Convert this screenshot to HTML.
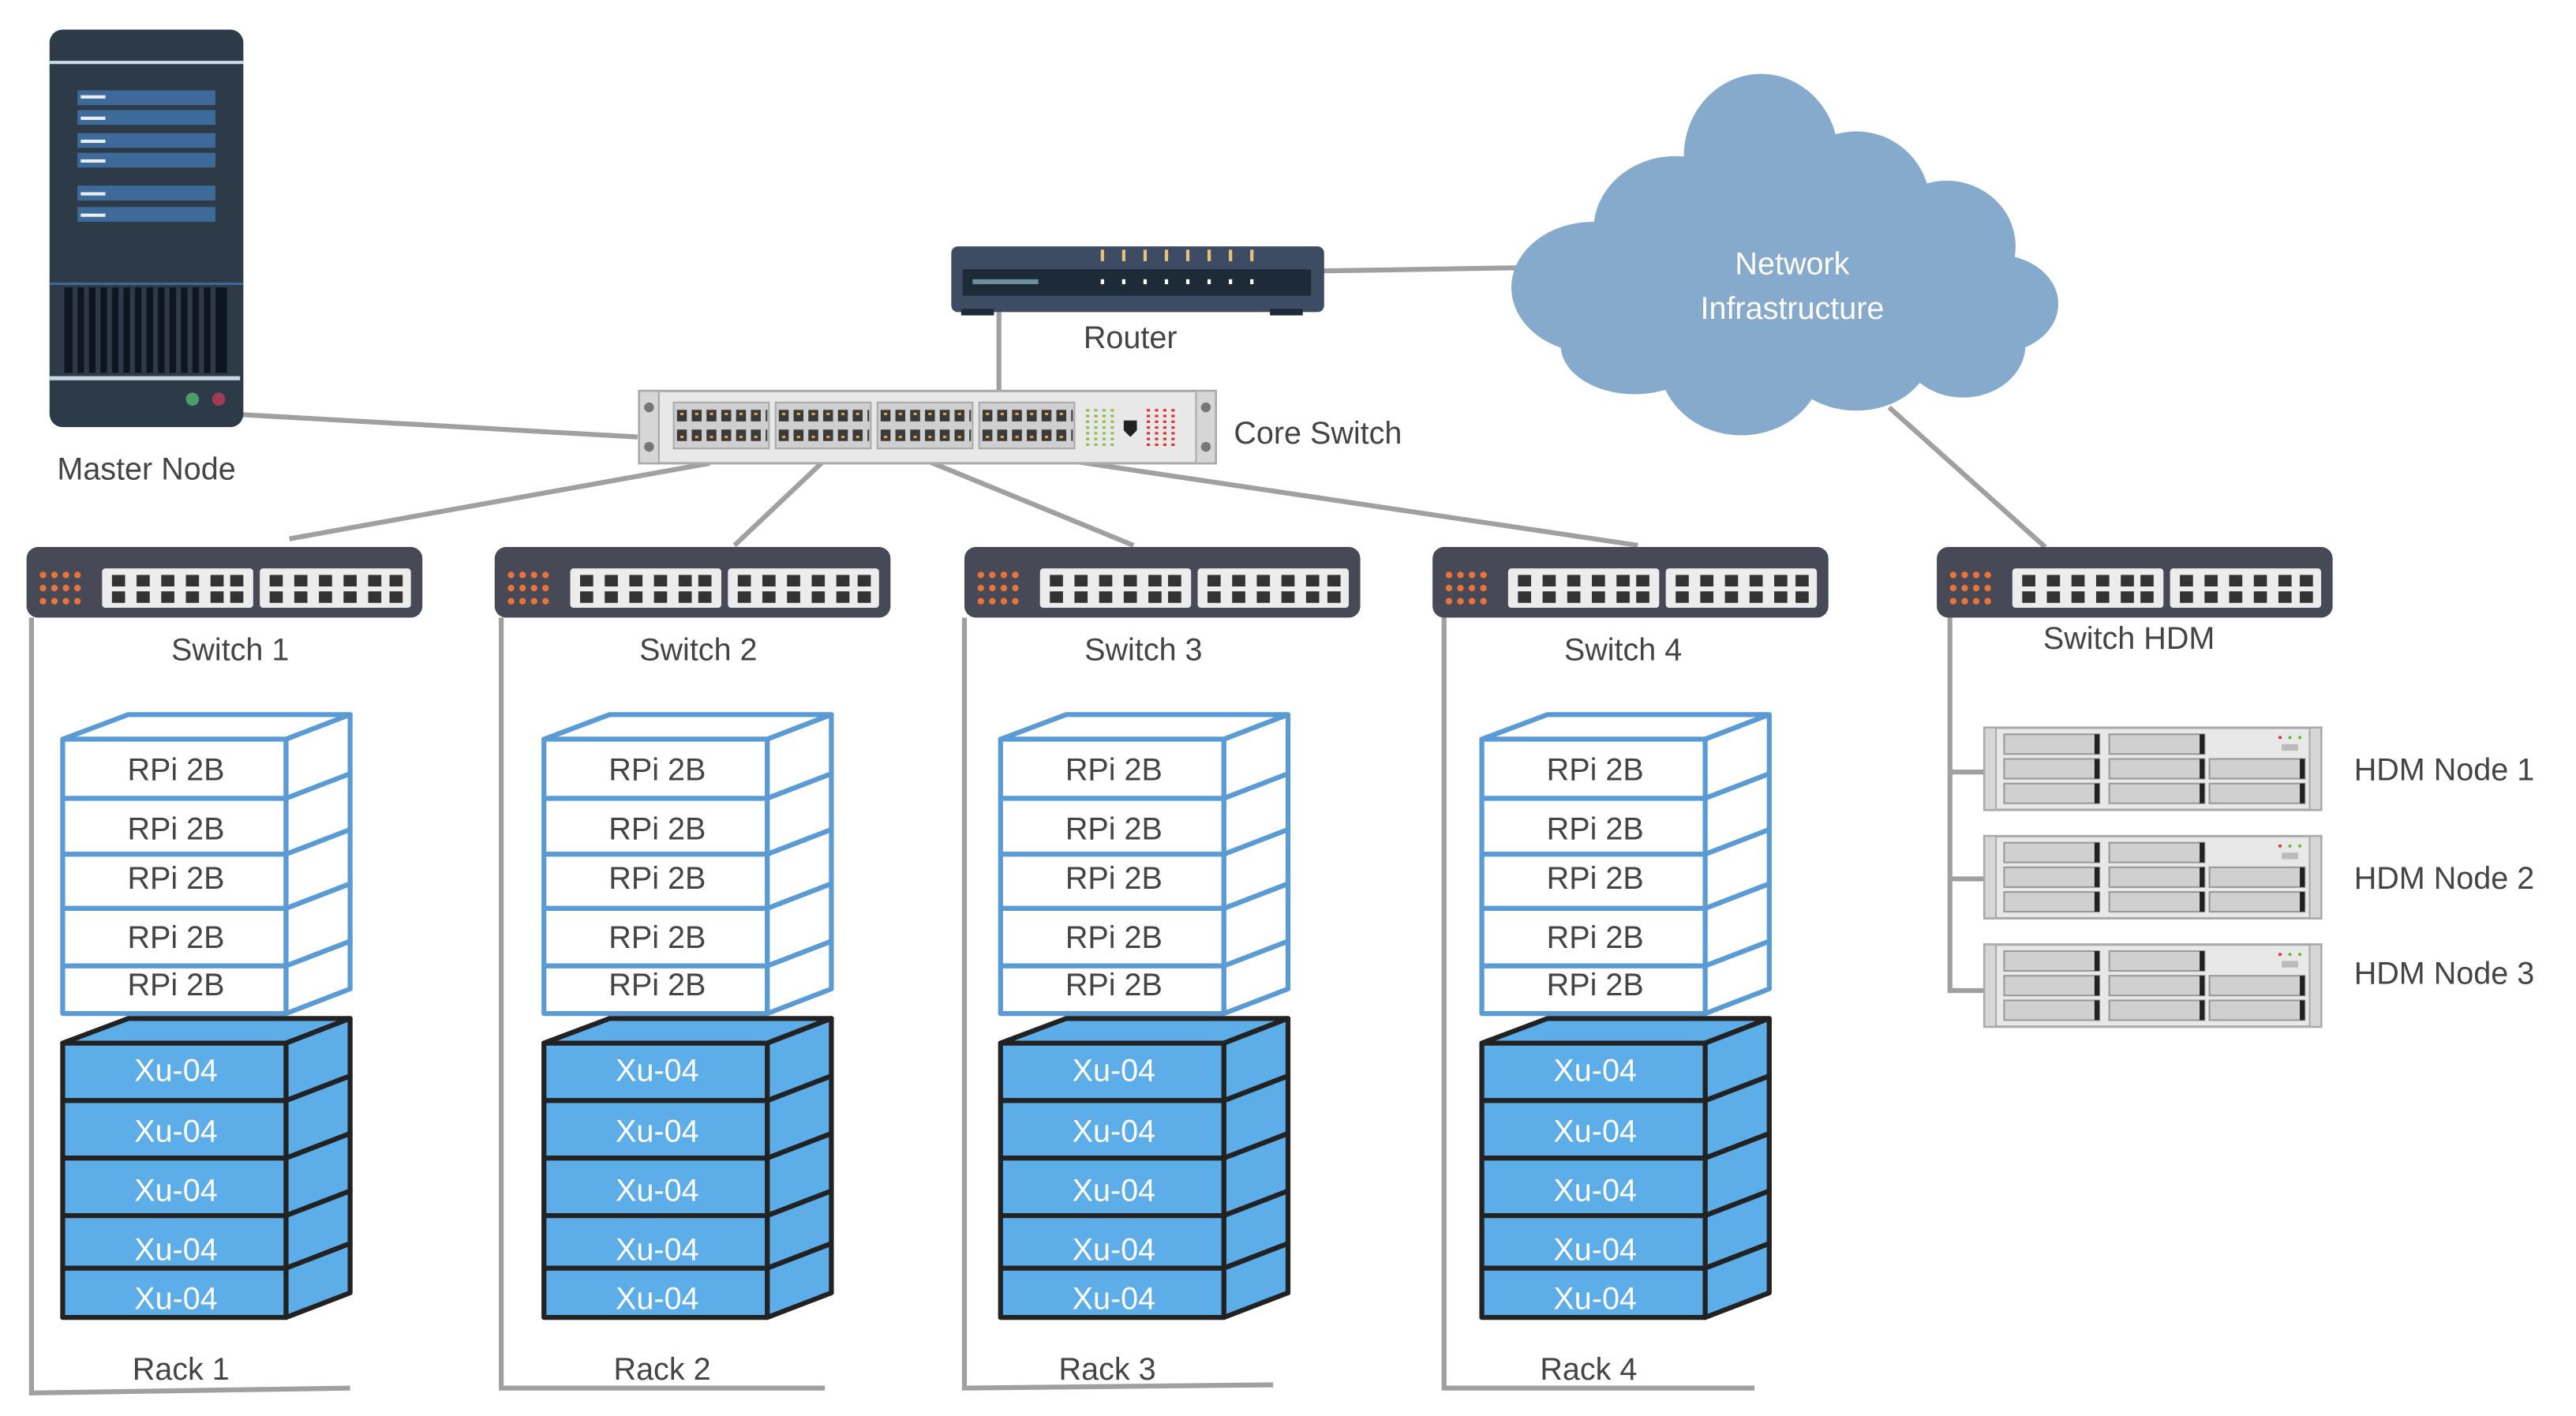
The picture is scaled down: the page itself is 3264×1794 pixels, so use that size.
<!DOCTYPE html>
<html><head><meta charset="utf-8"><style>
html,body{margin:0;padding:0;background:#fff}
svg{display:block}
text{font-family:"Liberation Sans",sans-serif;}
</style></head><body>
<svg width="3264" height="1794" viewBox="0 0 1568 862" xmlns="http://www.w3.org/2000/svg">
<defs>
<g id="sw">
<rect x="0" y="0" width="241" height="43" rx="7" fill="#474a56"/>
<g fill="#e8743b">
<circle cx="10" cy="17" r="2"/><circle cx="17" cy="17" r="2"/><circle cx="24" cy="17" r="2"/><circle cx="31" cy="17" r="2"/>
<circle cx="10" cy="25" r="2"/><circle cx="17" cy="25" r="2"/><circle cx="24" cy="25" r="2"/><circle cx="31" cy="25" r="2"/>
<circle cx="10" cy="33" r="2"/><circle cx="17" cy="33" r="2"/><circle cx="24" cy="33" r="2"/><circle cx="31" cy="33" r="2"/>
</g>
<rect x="46" y="13" width="92" height="24" rx="2" fill="#ececec"/>
<rect x="142" y="13" width="92" height="24" rx="2" fill="#ececec"/>
<g fill="#333">
<rect x="52" y="17" width="8" height="7"/><rect x="67" y="17" width="8" height="7"/><rect x="82" y="17" width="8" height="7"/><rect x="97" y="17" width="8" height="7"/><rect x="112" y="17" width="8" height="7"/><rect x="124" y="17" width="8" height="7"/>
<rect x="52" y="27" width="8" height="7"/><rect x="67" y="27" width="8" height="7"/><rect x="82" y="27" width="8" height="7"/><rect x="97" y="27" width="8" height="7"/><rect x="112" y="27" width="8" height="7"/><rect x="124" y="27" width="8" height="7"/>
<rect x="148" y="17" width="8" height="7"/><rect x="163" y="17" width="8" height="7"/><rect x="178" y="17" width="8" height="7"/><rect x="193" y="17" width="8" height="7"/><rect x="208" y="17" width="8" height="7"/><rect x="221" y="17" width="8" height="7"/>
<rect x="148" y="27" width="8" height="7"/><rect x="163" y="27" width="8" height="7"/><rect x="178" y="27" width="8" height="7"/><rect x="193" y="27" width="8" height="7"/><rect x="208" y="27" width="8" height="7"/><rect x="221" y="27" width="8" height="7"/>
</g>
</g>
<g id="rack">
<g fill="#fff" stroke="#5b9bd5" stroke-width="3" stroke-linejoin="round">
<polygon points="0,450 40,435 175,435 136,450"/>
<rect x="0" y="450" width="136" height="36"/><polygon points="136,450 175,435 175,471 136,486"/>
<rect x="0" y="486" width="136" height="34"/><polygon points="136,486 175,471 175,505 136,520"/>
<rect x="0" y="520" width="136" height="33"/><polygon points="136,520 175,505 175,538 136,553"/>
<rect x="0" y="553" width="136" height="35"/><polygon points="136,553 175,538 175,573 136,588"/>
<rect x="0" y="588" width="136" height="29"/><polygon points="136,588 175,573 175,602 136,617"/>
</g>
<g fill="#5dade8" stroke="#222" stroke-width="3" stroke-linejoin="round">
<polygon points="0,635 40,620 175,620 136,635"/>
<rect x="0" y="635" width="136" height="35"/><polygon points="136,635 175,620 175,655 136,670"/>
<rect x="0" y="670" width="136" height="35"/><polygon points="136,670 175,655 175,690 136,705"/>
<rect x="0" y="705" width="136" height="35"/><polygon points="136,705 175,690 175,725 136,740"/>
<rect x="0" y="740" width="136" height="32"/><polygon points="136,740 175,725 175,757 136,772"/>
<rect x="0" y="772" width="136" height="30"/><polygon points="136,772 175,757 175,787 136,802"/>
</g>
</g>
<g id="hdm">
<rect x="0" y="0" width="205" height="50" fill="#e8e8e8" stroke="#aaa" stroke-width="1.5"/>
<rect x="0" y="0" width="7" height="50" fill="#d6d6d6" stroke="#aaa"/>
<rect x="198" y="0" width="7" height="50" fill="#d6d6d6" stroke="#aaa"/>
<g fill="#d0d0d0" stroke="#999" stroke-width="1">
<rect x="12" y="4" width="58" height="12"/><rect x="76" y="4" width="58" height="12"/>
<rect x="12" y="19" width="58" height="12"/><rect x="76" y="19" width="58" height="12"/><rect x="137" y="19" width="58" height="12"/>
<rect x="12" y="34" width="58" height="12"/><rect x="76" y="34" width="58" height="12"/><rect x="137" y="34" width="58" height="12"/>
</g>
<g fill="#222"><rect x="67" y="4" width="3" height="12"/><rect x="131" y="4" width="3" height="12"/><rect x="67" y="19" width="3" height="12"/><rect x="131" y="19" width="3" height="12"/><rect x="192" y="19" width="3" height="12"/><rect x="67" y="34" width="3" height="12"/><rect x="131" y="34" width="3" height="12"/><rect x="192" y="34" width="3" height="12"/></g>
<circle cx="180" cy="6" r="1" fill="#d33"/><circle cx="186" cy="6" r="1" fill="#6b3"/><circle cx="192" cy="6" r="1" fill="#6b3"/>
<rect x="181" y="10" width="10" height="4" fill="#bbb"/>
</g>
</defs>

<g stroke="#a0a0a0" stroke-width="3" fill="none">
<line x1="140" y1="252" x2="388" y2="266"/>
<line x1="608" y1="190" x2="608" y2="238"/>
<line x1="800" y1="165" x2="925" y2="163"/>
<line x1="432" y1="282" x2="176" y2="328"/>
<line x1="502" y1="280" x2="447" y2="332"/>
<line x1="563" y1="280" x2="690" y2="332"/>
<line x1="628" y1="277" x2="997" y2="332"/>
<line x1="1150" y1="248" x2="1245" y2="333"/>
<polyline points="19,376 19,848 213,845"/>
<polyline points="305,376 305,845 502,845"/>
<polyline points="587,376 587,845 775,843"/>
<polyline points="879,376 879,845 1068,845"/>
<polyline points="1187,370 1187,603 1208,603"/>
<line x1="1187" y1="470" x2="1208" y2="470"/>
<line x1="1187" y1="535" x2="1208" y2="535"/>
</g>

<rect x="30" y="18" width="118" height="242" rx="8" fill="#2d3a47"/>
<rect x="30" y="37" width="118" height="2" fill="#c9d6e3"/>
<g fill="#3e6a99">
<rect x="47" y="55" width="84" height="9"/><rect x="47" y="67" width="84" height="9"/>
<rect x="47" y="81" width="84" height="9"/><rect x="47" y="93" width="84" height="9"/>
<rect x="47" y="113" width="84" height="9"/><rect x="47" y="126" width="84" height="9"/>
</g>
<g fill="#e8eef4">
<rect x="49" y="58" width="15" height="2"/><rect x="49" y="71" width="15" height="2"/>
<rect x="49" y="85" width="15" height="2"/><rect x="49" y="97" width="15" height="2"/>
<rect x="49" y="117" width="15" height="2"/><rect x="49" y="130" width="15" height="2"/>
</g>
<rect x="30" y="172" width="118" height="1.5" fill="#3e6a99"/>
<rect x="39" y="175" width="99" height="52" fill="#0d1620"/>
<g fill="#2d3a47">
<rect x="44" y="175" width="3" height="52"/><rect x="51" y="175" width="3" height="52"/><rect x="58" y="175" width="3" height="52"/><rect x="65" y="175" width="3" height="52"/><rect x="72" y="175" width="3" height="52"/><rect x="79" y="175" width="3" height="52"/><rect x="86" y="175" width="3" height="52"/><rect x="93" y="175" width="3" height="52"/><rect x="100" y="175" width="3" height="52"/><rect x="107" y="175" width="3" height="52"/><rect x="114" y="175" width="3" height="52"/><rect x="121" y="175" width="3" height="52"/><rect x="128" y="175" width="3" height="52"/>
</g>
<rect x="30" y="229" width="116" height="2.5" fill="#c9d6e3"/>
<circle cx="117" cy="243" r="4" fill="#4a9e6b"/><circle cx="133" cy="243" r="4" fill="#a03a55"/>
<text x="89" y="292" font-size="19" fill="#444" text-anchor="middle">Master Node</text>

<rect x="579" y="150" width="227" height="40" rx="4" fill="#3d4b63"/>
<rect x="586" y="164" width="212" height="16" fill="#1d2a38"/>
<rect x="592" y="170" width="40" height="3" fill="#6f8f9a"/>
<rect x="585" y="188" width="20" height="4" fill="#1d2a38"/><rect x="773" y="188" width="20" height="4" fill="#1d2a38"/>
<g fill="#e8c27a"><rect x="670" y="152" width="2" height="7"/><rect x="683" y="152" width="2" height="7"/><rect x="696" y="152" width="2" height="7"/><rect x="709" y="152" width="2" height="7"/><rect x="722" y="152" width="2" height="7"/><rect x="735" y="152" width="2" height="7"/><rect x="748" y="152" width="2" height="7"/><rect x="761" y="152" width="2" height="7"/></g>
<g fill="#fff"><rect x="670" y="170" width="2" height="3"/><rect x="683" y="170" width="2" height="3"/><rect x="696" y="170" width="2" height="3"/><rect x="709" y="170" width="2" height="3"/><rect x="722" y="170" width="2" height="3"/><rect x="735" y="170" width="2" height="3"/><rect x="748" y="170" width="2" height="3"/><rect x="761" y="170" width="2" height="3"/></g>
<text x="688" y="212" font-size="19" fill="#444" text-anchor="middle">Router</text>

<rect x="389" y="238" width="351" height="44" fill="#e8e8e8" stroke="#aaa" stroke-width="1.5"/>
<rect x="389" y="238" width="12" height="44" fill="#d6d6d6" stroke="#aaa"/>
<rect x="728" y="238" width="12" height="44" fill="#d6d6d6" stroke="#aaa"/>
<circle cx="395" cy="248" r="3" fill="#777"/><circle cx="395" cy="272" r="3" fill="#777"/>
<circle cx="734" cy="248" r="3" fill="#777"/><circle cx="734" cy="272" r="3" fill="#777"/>
<g fill="#cfcfcf" stroke="#aaa" stroke-width="1">
<rect x="410" y="245" width="58" height="28"/><rect x="472" y="245" width="58" height="28"/>
<rect x="534" y="245" width="58" height="28"/><rect x="596" y="245" width="58" height="28"/>
</g>
<g stroke="#3a3a3a" stroke-width="7" stroke-dasharray="6 3">
<line x1="412" y1="253" x2="467" y2="253"/><line x1="412" y1="265" x2="467" y2="265"/>
<line x1="474" y1="253" x2="529" y2="253"/><line x1="474" y1="265" x2="529" y2="265"/>
<line x1="536" y1="253" x2="591" y2="253"/><line x1="536" y1="265" x2="591" y2="265"/>
<line x1="598" y1="253" x2="653" y2="253"/><line x1="598" y1="265" x2="653" y2="265"/>
</g>
<g stroke="#d9a84a" stroke-width="1.5" stroke-dasharray="2 7">
<line x1="414" y1="252" x2="468" y2="252"/><line x1="414" y1="266" x2="468" y2="266"/>
<line x1="476" y1="252" x2="530" y2="252"/><line x1="476" y1="266" x2="530" y2="266"/>
<line x1="538" y1="252" x2="592" y2="252"/><line x1="538" y1="266" x2="592" y2="266"/>
<line x1="600" y1="252" x2="654" y2="252"/><line x1="600" y1="266" x2="654" y2="266"/>
</g>
<g stroke="#8fc04a" stroke-width="2" stroke-dasharray="1.5 2"><line x1="662" y1="249" x2="662" y2="272"/><line x1="667" y1="249" x2="667" y2="272"/><line x1="672" y1="249" x2="672" y2="272"/><line x1="677" y1="249" x2="677" y2="272"/></g>
<path d="M684 256h8v6l-4 4-4-4z" fill="#222"/>
<g stroke="#d33" stroke-width="2" stroke-dasharray="1.5 2"><line x1="699" y1="249" x2="699" y2="272"/><line x1="704" y1="249" x2="704" y2="272"/><line x1="709" y1="249" x2="709" y2="272"/><line x1="714" y1="249" x2="714" y2="272"/></g>
<text x="751" y="270" font-size="19" fill="#444">Core Switch</text>

<g fill="#86aacb">
<ellipse cx="1072" cy="95" rx="47" ry="50"/>
<ellipse cx="1020" cy="140" rx="50" ry="45"/>
<ellipse cx="1130" cy="125" rx="45" ry="45"/>
<ellipse cx="1185" cy="150" rx="42" ry="40"/>
<ellipse cx="970" cy="175" rx="50" ry="40"/>
<ellipse cx="1215" cy="185" rx="38" ry="30"/>
<ellipse cx="1060" cy="220" rx="50" ry="45"/>
<ellipse cx="1130" cy="215" rx="45" ry="35"/>
<ellipse cx="1195" cy="210" rx="38" ry="32"/>
<ellipse cx="995" cy="210" rx="45" ry="30"/>
<ellipse cx="1085" cy="155" rx="75" ry="50"/>
<rect x="975" y="150" width="220" height="70"/>
</g>
<text x="1091" y="167" font-size="19" fill="#fff" text-anchor="middle">Network</text>
<text x="1091" y="194" font-size="19" fill="#fff" text-anchor="middle">Infrastructure</text>

<use href="#sw" x="16" y="333"/>
<use href="#sw" x="301" y="333"/>
<use href="#sw" x="587" y="333"/>
<use href="#sw" x="872" y="333"/>
<use href="#sw" x="1179" y="333"/>
<g font-size="19" fill="#444" text-anchor="middle">
<text x="140" y="402">Switch 1</text>
<text x="425" y="402">Switch 2</text>
<text x="696" y="402">Switch 3</text>
<text x="988" y="402">Switch 4</text>
<text x="1296" y="395">Switch HDM</text>
</g>

<use href="#rack" x="38" y="0"/>
<use href="#rack" x="331" y="0"/>
<use href="#rack" x="609" y="0"/>
<use href="#rack" x="902" y="0"/>
<g font-size="19" fill="#444" text-anchor="middle">
<text x="107" y="475">RPi 2B</text><text x="107" y="511">RPi 2B</text><text x="107" y="541">RPi 2B</text><text x="107" y="577">RPi 2B</text><text x="107" y="606">RPi 2B</text>
<text x="400" y="475">RPi 2B</text><text x="400" y="511">RPi 2B</text><text x="400" y="541">RPi 2B</text><text x="400" y="577">RPi 2B</text><text x="400" y="606">RPi 2B</text>
<text x="678" y="475">RPi 2B</text><text x="678" y="511">RPi 2B</text><text x="678" y="541">RPi 2B</text><text x="678" y="577">RPi 2B</text><text x="678" y="606">RPi 2B</text>
<text x="971" y="475">RPi 2B</text><text x="971" y="511">RPi 2B</text><text x="971" y="541">RPi 2B</text><text x="971" y="577">RPi 2B</text><text x="971" y="606">RPi 2B</text>
</g>
<g font-size="19" fill="#fff" text-anchor="middle">
<text x="107" y="658">Xu-04</text><text x="107" y="695">Xu-04</text><text x="107" y="731">Xu-04</text><text x="107" y="767">Xu-04</text><text x="107" y="797">Xu-04</text>
<text x="400" y="658">Xu-04</text><text x="400" y="695">Xu-04</text><text x="400" y="731">Xu-04</text><text x="400" y="767">Xu-04</text><text x="400" y="797">Xu-04</text>
<text x="678" y="658">Xu-04</text><text x="678" y="695">Xu-04</text><text x="678" y="731">Xu-04</text><text x="678" y="767">Xu-04</text><text x="678" y="797">Xu-04</text>
<text x="971" y="658">Xu-04</text><text x="971" y="695">Xu-04</text><text x="971" y="731">Xu-04</text><text x="971" y="767">Xu-04</text><text x="971" y="797">Xu-04</text>
</g>
<g font-size="19" fill="#444" text-anchor="middle">
<text x="110" y="840">Rack 1</text>
<text x="403" y="840">Rack 2</text>
<text x="674" y="840">Rack 3</text>
<text x="967" y="840">Rack 4</text>
</g>

<use href="#hdm" x="1208" y="443"/>
<use href="#hdm" x="1208" y="509"/>
<use href="#hdm" x="1208" y="575"/>
<g font-size="19" fill="#444">
<text x="1433" y="475">HDM Node 1</text>
<text x="1433" y="541">HDM Node 2</text>
<text x="1433" y="599">HDM Node 3</text>
</g>
</svg>
</body></html>
